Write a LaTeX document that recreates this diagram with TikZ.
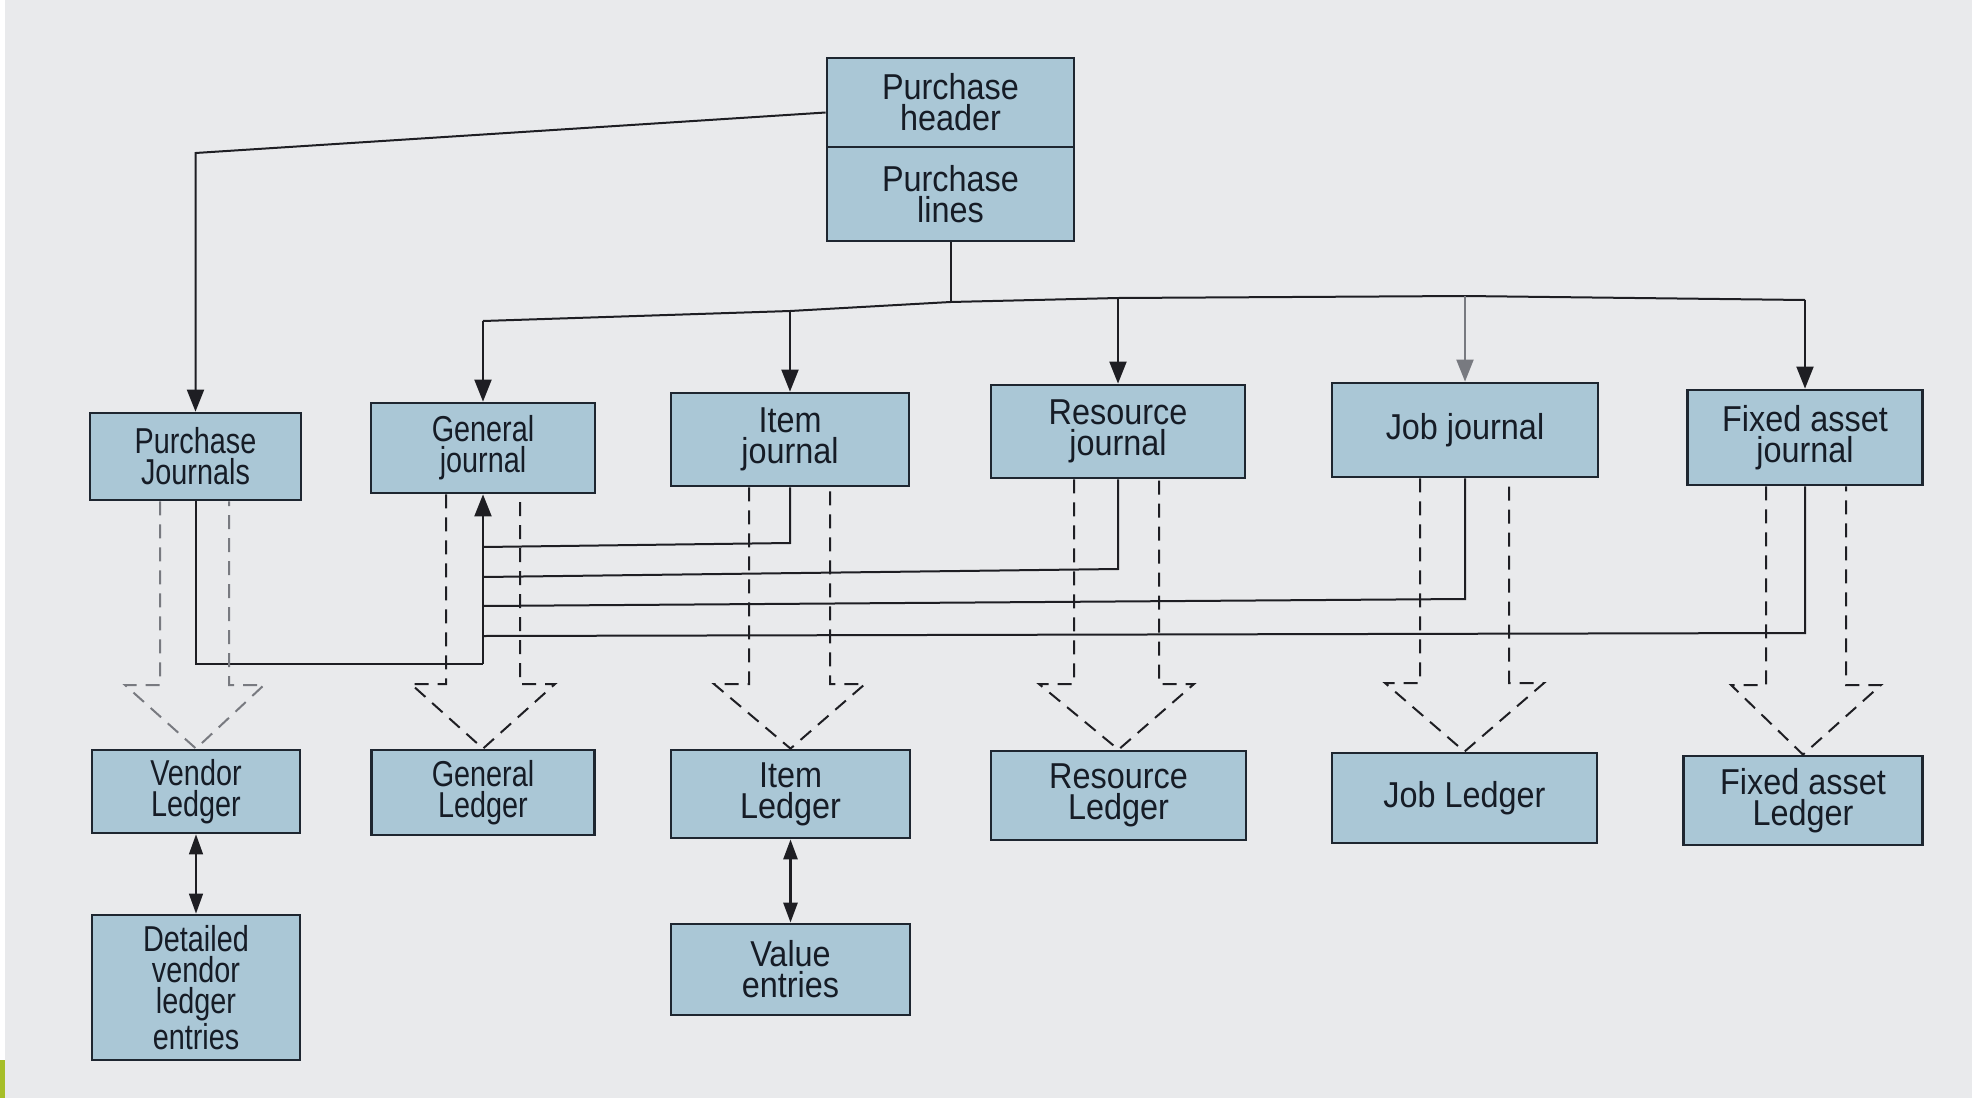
\documentclass[tikz,border=0pt]{standalone}
\usepackage{fontspec}
\setmainfont{Liberation Sans}[FakeStretch=0.9]
\newfontfamily\condfont{Liberation Sans}[FakeStretch=0.8]
\usetikzlibrary{arrows.meta}
\definecolor{bg}{RGB}{233,234,236}
\definecolor{boxfill}{RGB}{170,199,214}
\definecolor{boxline}{RGB}{30,38,48}
\definecolor{txt}{RGB}{22,28,38}
\definecolor{lin}{RGB}{30,30,35}
\definecolor{fadedgray}{RGB}{120,122,128}
\definecolor{leafgreen}{RGB}{166,190,40}
\newcommand\hollowarrow[6][lin]{%
  \path (#4,0) coordinate (hl) (#5,0) coordinate (hr);
  \draw[dasharr,draw=#1] (hl |- #2.south) -- (#4,#6) -- ({#4-35},#6) -- (#3.north)
    -- ({#5+35},#6) -- (#5,#6) -- (hr |- #2.south);}
\begin{document}
\begin{tikzpicture}[x=0.5pt,y=-0.5pt,
  box/.style={draw=boxline, line width=1.4pt, fill=boxfill, text=txt, align=center,
    inner sep=0pt, font=\fontsize{18}{15.5}\selectfont},
  cbox/.style={box, font=\condfont\fontsize{18}{15.5}\selectfont},
  conn/.style={line width=1pt, draw=lin},
  arr/.style={conn, -{Triangle[length=11pt,width=8.5pt]}},
  dasharr/.style={line width=1pt, dash pattern=on 7pt off 4.5pt},
  dbl/.style={conn, {Triangle[length=10pt,width=7pt]}-{Triangle[length=10pt,width=7pt]}},
]
\fill[bg] (0,0) rectangle (1972,1098);
\useasboundingbox (0,0) rectangle (1972,1098);
\fill[white] (0,0) rectangle (5,1098);
\fill[leafgreen] (0,1060) rectangle (5,1098);

% top boxes
\node[box, minimum width=123.5pt, minimum height=44.5pt] (ph) at (950.5,102.5) {Purchase\\header};
\node[box, minimum width=123.5pt, minimum height=47pt] (pl) at (950.5,194) {Purchase\\lines};

% journals
\node[cbox, minimum width=105.5pt, minimum height=43.5pt] (pj) at (195.5,456.5) {Purchase\\Journals};
\node[cbox, minimum width=112pt, minimum height=45pt] (gj) at (483,448) {General\\journal};
\node[box, minimum width=119pt, minimum height=46.5pt] (ij) at (790,439.5) {Item\\journal};
\node[box, minimum width=127pt, minimum height=46.5pt] (rj) at (1118,431.5) {Resource\\journal};
\node[box, minimum width=133pt, minimum height=47pt] (jj) at (1465,430) {Job journal};
\node[box, minimum width=117.5pt, minimum height=47.5pt] (faj) at (1805,437.5) {Fixed asset\\journal};

% ledgers
\node[cbox, minimum width=104pt, minimum height=41.5pt] (vl) at (196,791.5) {Vendor\\Ledger};
\node[cbox, minimum width=111.5pt, minimum height=42.5pt] (gl) at (483,792.5) {General\\Ledger};
\node[box, minimum width=119.5pt, minimum height=44pt] (il) at (790.5,794) {Item\\Ledger};
\node[box, minimum width=127.5pt, minimum height=44.5pt] (rl) at (1118.5,795.5) {Resource\\Ledger};
\node[box, minimum width=132.5pt, minimum height=45pt] (jl) at (1464.5,798) {Job Ledger};
\node[box, minimum width=119.5pt, minimum height=44.5pt] (fal) at (1803,800.5) {Fixed asset\\Ledger};

% bottom boxes
\node[cbox, minimum width=104pt, minimum height=72.5pt] (dv) at (196,987.5) {Detailed\\vendor\\ledger\\entries};
\node[box, minimum width=119.5pt, minimum height=45.5pt] (ve) at (790.5,969.5) {Value\\entries};

% header to purchase journals
\coordinate (pjc) at (195.5,153);
\draw[arr] ([yshift=-5pt]ph.west) -- (pjc) -- (pj.north);

% bus
\coordinate (b1) at (483,321);
\coordinate (b2) at (790,311);
\coordinate (b3) at (950.5,302);
\coordinate (b4) at (1118,298);
\coordinate (b5) at (1465,296);
\coordinate (b6) at (1805,300);
\draw[conn] (pl.south) -- (b3);
\draw[conn] (b1) -- (b2) -- (b3) -- (b4) -- (b5) -- (b6);
\draw[arr] (b1) -- (gj.north);
\draw[arr] (b2) -- (ij.north);
\draw[arr] (b4) -- (rj.north);
\draw[arr, draw=fadedgray, fill=fadedgray] (b5) -- (jj.north);
\draw[arr] (b6) -- (faj.north);

% returns into general journal
\coordinate (gstem) at (483,664);
\draw[conn] (ij.south) -- (790,543) -- (483,547);
\draw[conn] (rj.south) -- (1118,569) -- (483,577);
\draw[conn] (jj.south) -- (1465,599) -- (483,606);
\draw[conn] (faj.south) -- (1805,633) -- (483,636);
\draw[conn] (pj.south) |- (gstem);
\draw[arr] (gstem) -- (gj.south);

% dashed hollow arrows
\hollowarrow[fadedgray]{pj}{vl}{160}{229}{685}
\hollowarrow{gj}{gl}{446}{520}{684}
\hollowarrow{ij}{il}{749}{830}{684}
\hollowarrow{rj}{rl}{1074}{1159}{684}
\hollowarrow{jj}{jl}{1420}{1509}{683}
\hollowarrow{faj}{fal}{1766}{1846}{685}

% double arrows
\draw[dbl, line width=0.7pt] (vl.south) -- (dv.north);
\draw[dbl, line width=1.4pt] (il.south) -- (ve.north);
\end{tikzpicture}
\end{document}
